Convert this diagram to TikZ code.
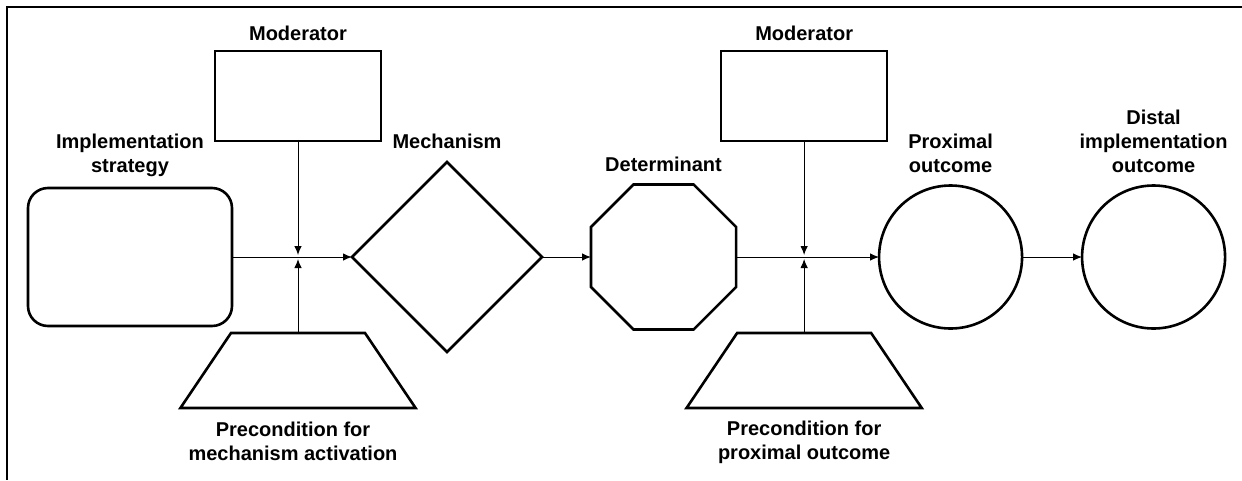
\documentclass[tikz,border=0pt]{standalone}
\usepackage{fontspec}
\setmainfont{Liberation Sans}
\usetikzlibrary{positioning, calc, shapes.geometric, arrows.meta}

\begin{document}
\begin{tikzpicture}[x=1pt, y=-1pt, >={Latex[length=9pt,width=7.5pt]}]
\tikzstyle{box}=[draw=black, line width=2.6pt, inner sep=0pt, outer sep=0pt]
\tikzstyle{tag}=[font=\fontsize{20}{24}\selectfont\bfseries, align=center, inner sep=0pt]
\tikzstyle{link}=[->, line width=1pt]
\tikzstyle{modbox}=[box, rectangle, minimum width=166pt, minimum height=90pt]
\tikzstyle{prebox}=[box, trapezium, inner xsep=67pt, inner ysep=37.5pt, trapezium left angle=56, trapezium right angle=56]
\useasboundingbox (0,0) rectangle (1242,480);
\draw[line width=2pt] (7,480) -- (7,7) -- (1242,7);
% main chain
\node[box, rounded corners=20pt, minimum width=204pt, minimum height=138pt] (strat) at (130,257) {};
\node[box, diamond, minimum width=190pt, minimum height=190pt] (mech) [right=120pt of strat] {};
\node[box, regular polygon, regular polygon sides=8, minimum size=157pt] (det) [right=49pt of mech] {};
\node[box, circle, minimum size=143pt] (prox) [right=143pt of det] {};
\node[box, circle, minimum size=143pt] (dist) [right=60pt of prox] {};
% junctions
\coordinate (j1) at ($(strat.east)!0.55!(mech.west)$);
\coordinate (j2) at ($(det.east)!0.476!(prox.west)$);
\node[modbox] (mod1) [above=116pt of j1] {};
\node[prebox] (pre1) [below=76pt of j1] {};
\node[modbox] (mod2) [above=116pt of j2] {};
\node[prebox] (pre2) [below=76pt of j2] {};
% labels
\node[tag] (stratlbl) [above=11pt of strat] {Implementation\\strategy};
\node[tag] (mod1lbl) [above=10pt of mod1] {Moderator};
\node[tag] (mechlbl) [above=13pt of mech] {Mechanism};
\node[tag] (detlbl) [above=13pt of det] {Determinant};
\node[tag] (mod2lbl) [above=10pt of mod2] {Moderator};
\node[tag] (proxlbl) [above=13pt of prox] {Proximal\\outcome};
\node[tag] (distlbl) [above=13pt of dist] {Distal\\implementation\\outcome};
\node[tag] (pre1lbl) [below=14pt of pre1, xshift=-5pt] {Precondition for\\mechanism activation};
\node[tag] (pre2lbl) [below=13pt of pre2] {Precondition for\\proximal outcome};
% connectors
\draw[link] (strat.east) -- (mech.west);
\draw[link, shorten >=2pt] (mod1.south) -- (j1);
\draw[link, shorten >=2pt] (pre1.north) -- (j1);
\draw[link] (mech.east) -- (det.west);
\draw[link] (det.east) -- (prox.west);
\draw[link, shorten >=2pt] (mod2.south) -- (j2);
\draw[link, shorten >=2pt] (pre2.north) -- (j2);
\draw[link] (prox.east) -- (dist.west);
\end{tikzpicture}
\end{document}
